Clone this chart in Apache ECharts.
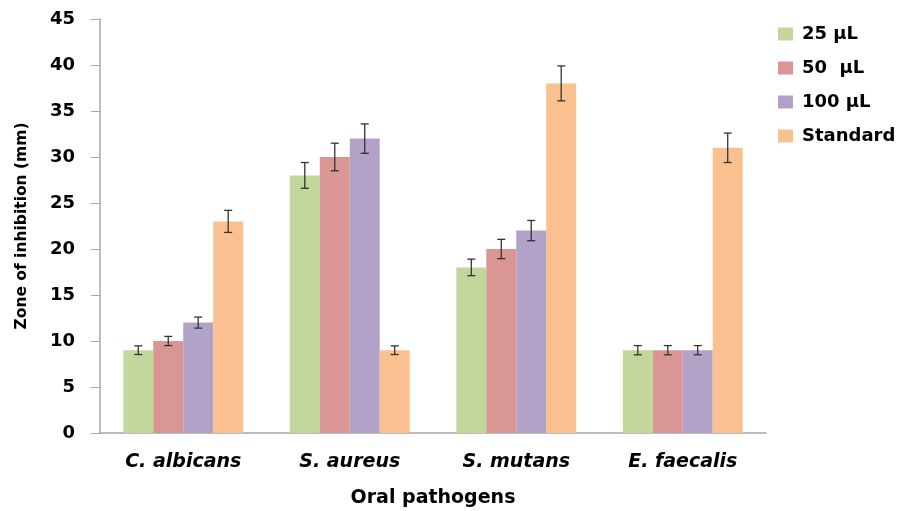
<!DOCTYPE html>
<html><head><meta charset="utf-8">
<script src="https://cdn.jsdelivr.net/npm/echarts@6/dist/echarts.min.js"></script>
<style>html,body{margin:0;padding:0;background:#fff}#c{width:909px;height:511px}</style>
</head><body><div id="c"></div>
<script>
var categories = ['C. albicans', 'S. aureus', 'S. mutans', 'E. faecalis'];
var seriesNames = ['25 µL', '50  µL', '100 µL', 'Standard'];
var v25 = [9, 28, 18, 9];
var v50 = [10, 30, 20, 9];
var v100 = [12, 32, 22, 9];
var vStd = [23, 9, 38, 31];
var e25 = [0.47, 1.4, 0.9, 0.5];
var e50 = [0.5, 1.5, 1.05, 0.5];
var e100 = [0.6, 1.6, 1.1, 0.5];
var eStd = [1.2, 0.47, 1.9, 1.6];
var yTicks = [0, 5, 10, 15, 20, 25, 30, 35, 40, 45];
var colors = ['#C3D69B', '#D99694', '#B3A2C7', '#FAC090'];

var values = [v25, v50, v100, vStd];
var errors = [e25, e50, e100, eStd];
var font = 'DejaVu Sans';
var chart = echarts.init(document.getElementById('c'), null, {renderer: 'canvas'});
var series = [];
values.forEach(function (vals, i) {
  series.push({
    name: seriesNames[i], type: 'bar', data: vals, barGap: '0%', barCategoryGap: '28%',
    itemStyle: {color: colors[i]}
  });
});
var n = values.length;
values.forEach(function (vals, i) {
  series.push({
    type: 'custom', name: seriesNames[i] + ' err', silent: true, z: 5,
    data: vals.map(function (v, k) { return [k, v - errors[i][k], v + errors[i][k]]; }),
    renderItem: function (params, api) {
      var k = api.value(0);
      var lo = api.coord([k, api.value(1)]);
      var hi = api.coord([k, api.value(2)]);
      var bw = api.size([1, 0])[0];
      var group = bw * (1 - 0.28);
      var barW = group / n;
      var x = lo[0] - group / 2 + barW * (i + 0.5);
      var cap = 4;
      var st = {stroke: '#333', lineWidth: 1.3};
      return {type: 'group', children: [
        {type: 'line', shape: {x1: x, y1: hi[1], x2: x, y2: lo[1]}, style: st},
        {type: 'line', shape: {x1: x - cap, y1: hi[1], x2: x + cap, y2: hi[1]}, style: st},
        {type: 'line', shape: {x1: x - cap, y1: lo[1], x2: x + cap, y2: lo[1]}, style: st}
      ]};
    }
  });
});
chart.setOption({
  animation: false,
  backgroundColor: '#fff',
  grid: {left: 100, top: 19, width: 666, bottom: 78, containLabel: false, outerBoundsMode: 'none'},
  legend: {
    data: seriesNames, orient: 'vertical', left: 773, top: 20, itemGap: 16,
    itemWidth: 15, itemHeight: 13, icon: 'rect',
    textStyle: {fontFamily: font, fontWeight: 'bold', fontSize: 18, color: '#000', padding: [0, 0, 0, 4]}
  },
  xAxis: {
    type: 'category', data: categories,
    axisLine: {lineStyle: {color: '#A6A6A6', width: 1.5}},
    axisTick: {show: false},
    axisLabel: {fontFamily: font, fontWeight: 'bold', fontStyle: 'italic', fontSize: 19, color: '#000', margin: 20},
    name: 'Oral pathogens', nameLocation: 'middle', nameGap: 56,
    nameTextStyle: {fontFamily: font, fontWeight: 'bold', fontSize: 19, color: '#000'}
  },
  yAxis: {
    type: 'value', min: yTicks[0], max: yTicks[yTicks.length - 1], interval: 5,
    axisLine: {show: true, lineStyle: {color: '#A6A6A6', width: 1.5}},
    axisTick: {show: true, length: 9, inside: false, lineStyle: {color: '#A6A6A6'}},
    splitLine: {show: false},
    axisLabel: {fontFamily: font, fontWeight: 'bold', fontSize: 18, color: '#000', margin: 25},
    name: 'Zone of inhibition (mm)', nameLocation: 'middle', nameGap: 70, nameMoveOverlap: false,
    nameTextStyle: {fontFamily: font, fontWeight: 'bold', fontSize: 15.5, color: '#000'}
  },
  series: series
});
</script></body></html>
